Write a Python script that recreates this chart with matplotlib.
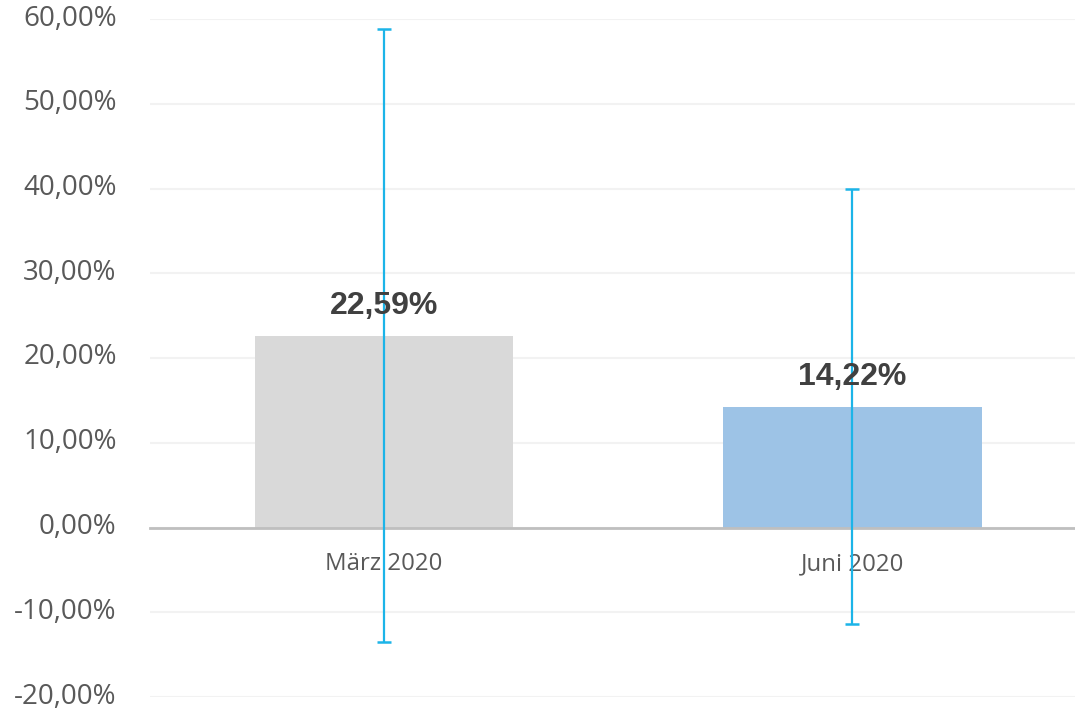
import matplotlib.pyplot as plt
import matplotlib.transforms as mtransforms
from matplotlib.ticker import FuncFormatter

categories = ['März 2020', 'Juni 2020']
values = [22.59, 14.22]
err_upper = [58.8, 40.0]
err_lower = [-13.55, -11.4]
bar_colors = ['#D9D9D9', '#9DC3E6']

fig = plt.figure(figsize=(10.75, 7.09), dpi=100)
ax = fig.add_axes([150 / 1075, 1 - 697 / 709, 925 / 1075, 678 / 709])

x = list(range(len(categories)))
ax.bar(x, values, width=0.553, color=bar_colors, zorder=2)

yerr = [[v - lo for v, lo in zip(values, err_lower)],
        [hi - v for v, hi in zip(values, err_upper)]]
ax.errorbar(x, values, yerr=yerr, fmt='none', ecolor='#1CB4E8', elinewidth=1.6,
            capsize=4.7, capthick=1.8, zorder=3)

for xi, v in zip(x, values):
    ax.annotate(f'{v:.2f}%'.replace('.', ','), (xi, v), xytext=(0, 30),
                textcoords='offset pixels', ha='center', va='center',
                fontsize=23, fontweight='bold', color='#404040',
                family=['Liberation Sans', 'DejaVu Sans'], zorder=4)

ax.set_xlim(-0.5, 1.476)
ax.set_ylim(-20, 60)
ax.set_yticks(range(-20, 61, 10))
ax.yaxis.set_major_formatter(FuncFormatter(lambda v, p: f'{v:.2f}%'.replace('.', ',')))
ax.set_xticks(x)
ax.set_xticklabels(categories)

ax.grid(axis='y', color='#F2F2F2', linewidth=1.5, zorder=0)
ax.set_axisbelow(True)
for s in ['top', 'right', 'left']:
    ax.spines[s].set_visible(False)
ax.spines['bottom'].set_position(('data', 0))
ax.spines['bottom'].set_color('#BFBFBF')
ax.spines['bottom'].set_linewidth(2)
ax.spines['bottom'].set_zorder(2.5)

ax.tick_params(axis='y', length=0, pad=24, labelsize=20, labelcolor='#595959')
ax.tick_params(axis='x', length=0, pad=18, labelsize=17.3, labelcolor='#595959')
for lab in ax.get_xticklabels() + ax.get_yticklabels():
    lab.set_family('Open Sans')

# nudge y labels up so the lowest one stays inside the figure
shift = mtransforms.ScaledTranslation(0, 4 / 100, fig.dpi_scale_trans)
for lab in ax.get_yticklabels():
    lab.set_transform(lab.get_transform() + shift)

fig.savefig('out.png', dpi=100)
